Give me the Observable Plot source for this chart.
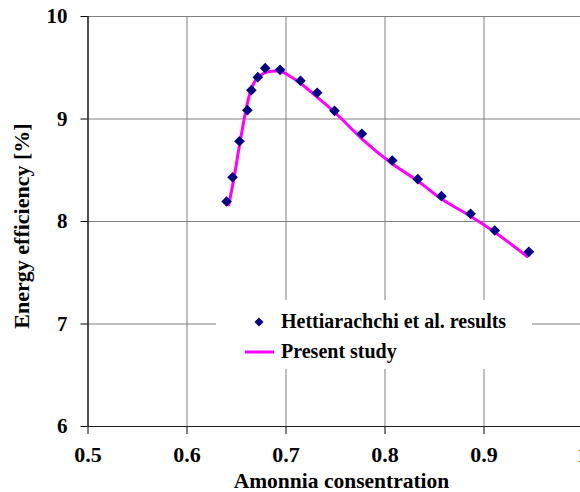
<!DOCTYPE html>
<html>
<head>
<meta charset="utf-8">
<script src="https://cdn.jsdelivr.net/npm/d3@7"></script>
<script src="https://cdn.jsdelivr.net/npm/@observablehq/plot@0.6"></script>
<style>
  html, body { margin: 0; padding: 0; background: #fff; overflow: hidden; }
  #wrap { position: relative; width: 580px; height: 492px; }
  #wrap svg text { font-family: "Liberation Serif", "Times New Roman", serif; font-weight: bold; fill: #000; }
</style>
</head>
<body>
<div id="wrap"></div>
<script>
// Tick values
const xTicks = [0.5, 0.6, 0.7, 0.8, 0.9, 1];
const yTicks = [6, 7, 8, 9, 10];

// Hettiarachchi et al. results (markers)
const expX = [0.640, 0.646, 0.653, 0.661, 0.665, 0.6715, 0.679, 0.694, 0.7146, 0.7315, 0.749, 0.7766, 0.8073, 0.8331, 0.857, 0.8864, 0.9109, 0.9453];
const expY = [8.195, 8.432, 8.783, 9.086, 9.281, 9.408, 9.496, 9.480, 9.373, 9.256, 9.080, 8.856, 8.595, 8.413, 8.247, 8.075, 7.912, 7.704];

// Present study (line)
const modelX = [0.6422, 0.6473, 0.6533, 0.6591, 0.6635, 0.6692, 0.6776, 0.686, 0.6944, 0.7045, 0.7146, 0.7315, 0.7493, 0.7766, 0.8073, 0.8325, 0.856, 0.8864, 0.911, 0.9436];
const modelY = [8.163, 8.416, 8.758, 9.066, 9.246, 9.376, 9.447, 9.466, 9.466, 9.415, 9.349, 9.213, 9.066, 8.807, 8.563, 8.400, 8.227, 8.052, 7.896, 7.659];

const seriesNames = ["Hettiarachchi et al. results", "Present study"];
const xTitle = "Amonnia consentration";
const yTitle = "Energy efficiency [%]";

const exp = expX.map((x, i) => ({x, y: expY[i]}));
const model = modelX.map((x, i) => ({x, y: modelY[i]}));

const chart = Plot.plot({
  width: 580,
  height: 492,
  marginTop: 16,
  marginBottom: 66,
  marginLeft: 87.5,
  marginRight: 0,
  style: {fontFamily: "Liberation Serif", fontWeight: "bold", fontSize: "20px", color: "#000", background: "#fff", overflow: "visible"},
  x: {
    domain: [0.5, 1],
    range: [87.5, 582.5],
    ticks: xTicks,
    tickFormat: () => "",
    tickSize: 8,
    label: null
  },
  y: {
    domain: [6, 10],
    ticks: yTicks,
    tickFormat: () => "",
    tickSize: 7,
    label: null
  },
  marks: [
    Plot.ruleY(yTicks, {stroke: "#808080", strokeWidth: 1}),
    Plot.ruleX(xTicks, {stroke: "#808080", strokeWidth: 1}),
    Plot.ruleY([6], {stroke: "#222", strokeWidth: 1.2}),
    Plot.ruleX([0.5], {stroke: "#000", strokeWidth: 1.2}),
    // tick labels, placed through the scales
    Plot.text(xTicks, {x: d => d, frameAnchor: "bottom", text: d => String(d), dy: 28, lineAnchor: "middle", fontSize: 22, fontWeight: "bold", fill: "#000"}),
    Plot.text(yTicks, {y: d => d, frameAnchor: "left", text: d => String(d), dx: -20.5, textAnchor: "end", lineAnchor: "middle", fontSize: 21, fontWeight: "bold", fill: "#000"}),
    Plot.line(model, {x: "x", y: "y", stroke: "#FF00FF", strokeWidth: 3, curve: "catmull-rom"}),
    Plot.dot(exp, {x: "x", y: "y", symbol: "diamond2", r: 4.8, fill: "#000080", stroke: "none"})
  ]
});
document.getElementById("wrap").appendChild(chart);

const ns = "http://www.w3.org/2000/svg";

// Axis titles overlay
const tt = document.createElementNS(ns, "svg");
tt.setAttribute("width", 580);
tt.setAttribute("height", 492);
tt.style.position = "absolute";
tt.style.left = "0px";
tt.style.top = "0px";
tt.style.pointerEvents = "none";
tt.innerHTML = `
  <text font-size="21.5" x="341.5" y="487.5" text-anchor="middle">${xTitle}</text>
  <text font-size="22" transform="translate(29,226) rotate(-90)" text-anchor="middle">${yTitle}</text>
`;
document.getElementById("wrap").appendChild(tt);

// Legend overlay
const lg = document.createElementNS(ns, "svg");
lg.setAttribute("width", 316);
lg.setAttribute("height", 69);
lg.style.position = "absolute";
lg.style.left = "216px";
lg.style.top = "300px";
lg.style.background = "#fff";
lg.innerHTML = `
  <path d="M43,17.5 L47.5,22 L43,26.5 L38.5,22 Z" fill="#000080"/>
  <text font-size="20" x="65" y="27.5">${seriesNames[0]}</text>
  <line x1="29" x2="58" y1="52" y2="52" stroke="#FF00FF" stroke-width="3"/>
  <text font-size="20" x="65" y="58">${seriesNames[1]}</text>
`;
document.getElementById("wrap").appendChild(lg);
</script>
</body>
</html>
